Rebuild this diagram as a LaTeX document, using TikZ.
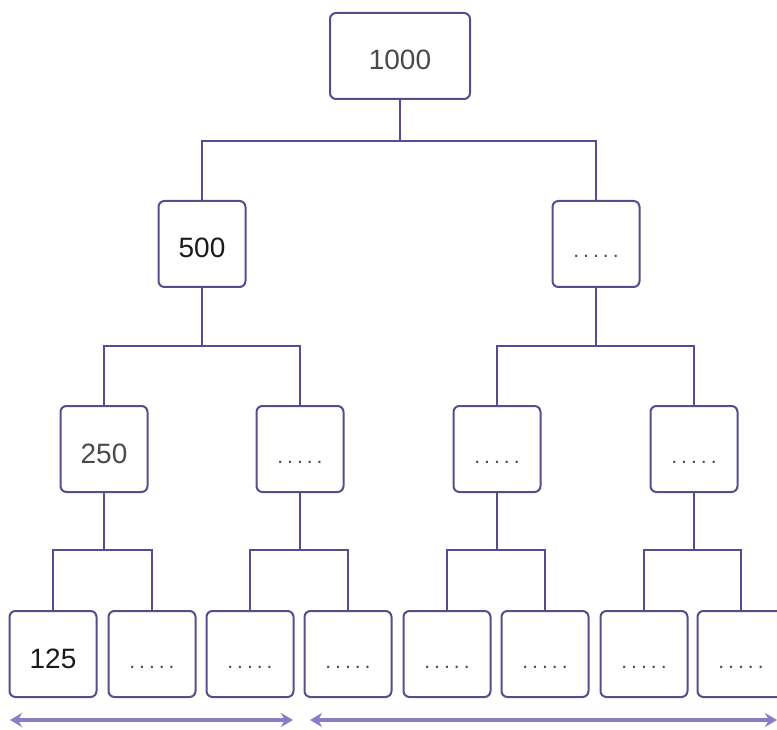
\documentclass[tikz,border=0pt]{standalone}
\usepackage{fontspec}
\setmainfont{Liberation Sans}
\usetikzlibrary{arrows.meta}
\definecolor{boxline}{HTML}{5A4C8C}
\definecolor{conn}{HTML}{5A4A96}
\definecolor{arr}{HTML}{8A7CC6}
\definecolor{txtgray}{HTML}{4A4A4A}
\definecolor{txtdark}{HTML}{1A1A1A}
\newcommand\fivedots{.\hspace{4pt}.\hspace{4pt}.\hspace{4pt}.\hspace{4pt}.}
\begin{document}
\begin{tikzpicture}[x=1pt,y=-1pt,
  box/.style={draw=boxline, line width=2pt, rounded corners=6pt, fill=white,
    minimum width=87pt, minimum height=86pt, inner sep=0pt,
    font=\fontsize{28}{32}\selectfont, text height=28pt, text depth=0pt},
  numdark/.style={box, text=txtdark},
  numgray/.style={box, text=txtgray},
  dotbox/.style={box, font=\fontsize{21}{24}\selectfont, text=txtgray},
  conn/.style={draw=conn, line width=2pt},
  span/.style={draw=arr, line width=3.5pt, {Stealth[length=12pt,width=14pt]}-{Stealth[length=12pt,width=14pt]}}
]
\clip (0,0) rectangle (777,730);
\fill[white] (0,0) rectangle (777,730);

% root
\node[numgray, minimum width=140pt] (root) at (400,56) {1000};
% level 1
\node[numdark] (a) at (202,244) {500};
\node[dotbox] (b) at (596,244) {\fivedots};
% level 2
\node[numgray] (aa) at (104,449) {250};
\node[dotbox] (ab) at (300,449) {\fivedots};
\node[dotbox] (ba) at (497,449) {\fivedots};
\node[dotbox] (bb) at (694,449) {\fivedots};
% level 3
\node[numdark] (aaa) at (53,654) {125};
\node[dotbox] (aab) at (152,654) {\fivedots};
\node[dotbox] (aba) at (250,654) {\fivedots};
\node[dotbox] (abb) at (348,654) {\fivedots};
\node[dotbox] (baa) at (447,654) {\fivedots};
\node[dotbox] (bab) at (545,654) {\fivedots};
\node[dotbox] (bba) at (644,654) {\fivedots};
\node[dotbox] (bbb) at (741,654) {\fivedots};

% junctions
\coordinate (j0) at (400,141);
\coordinate (ja) at (202,346);
\coordinate (jb) at (596,346);
\coordinate (jaa) at (104,550);
\coordinate (jab) at (300,550);
\coordinate (jba) at (497,550);
\coordinate (jbb) at (694,550);

\draw[conn] (root.south) -- (j0);
\draw[conn] (j0) -| (a.north);
\draw[conn] (j0) -| (b.north);

\draw[conn] (a.south) -- (ja);
\draw[conn] (ja) -| (aa.north);
\draw[conn] (ja) -| (ab.north);
\draw[conn] (b.south) -- (jb);
\draw[conn] (jb) -| (ba.north);
\draw[conn] (jb) -| (bb.north);

\draw[conn] (aa.south) -- (jaa);
\draw[conn] (jaa) -| (aaa.north);
\draw[conn] (jaa) -| (aab.north);
\draw[conn] (ab.south) -- (jab);
\draw[conn] (jab) -| (aba.north);
\draw[conn] (jab) -| (abb.north);
\draw[conn] (ba.south) -- (jba);
\draw[conn] (jba) -| (baa.north);
\draw[conn] (jba) -| (bab.north);
\draw[conn] (bb.south) -- (jbb);
\draw[conn] (jbb) -| (bba.north);
\draw[conn] (jbb) -| (bbb.north);

% span arrows
\coordinate (l1) at (10,720);
\coordinate (l2) at (293,720);
\coordinate (r1) at (310,720);
\coordinate (r2) at (777,720);
\draw[span] (l1) -- (l2);
\draw[span] (r1) -- (r2);
\end{tikzpicture}
\end{document}
